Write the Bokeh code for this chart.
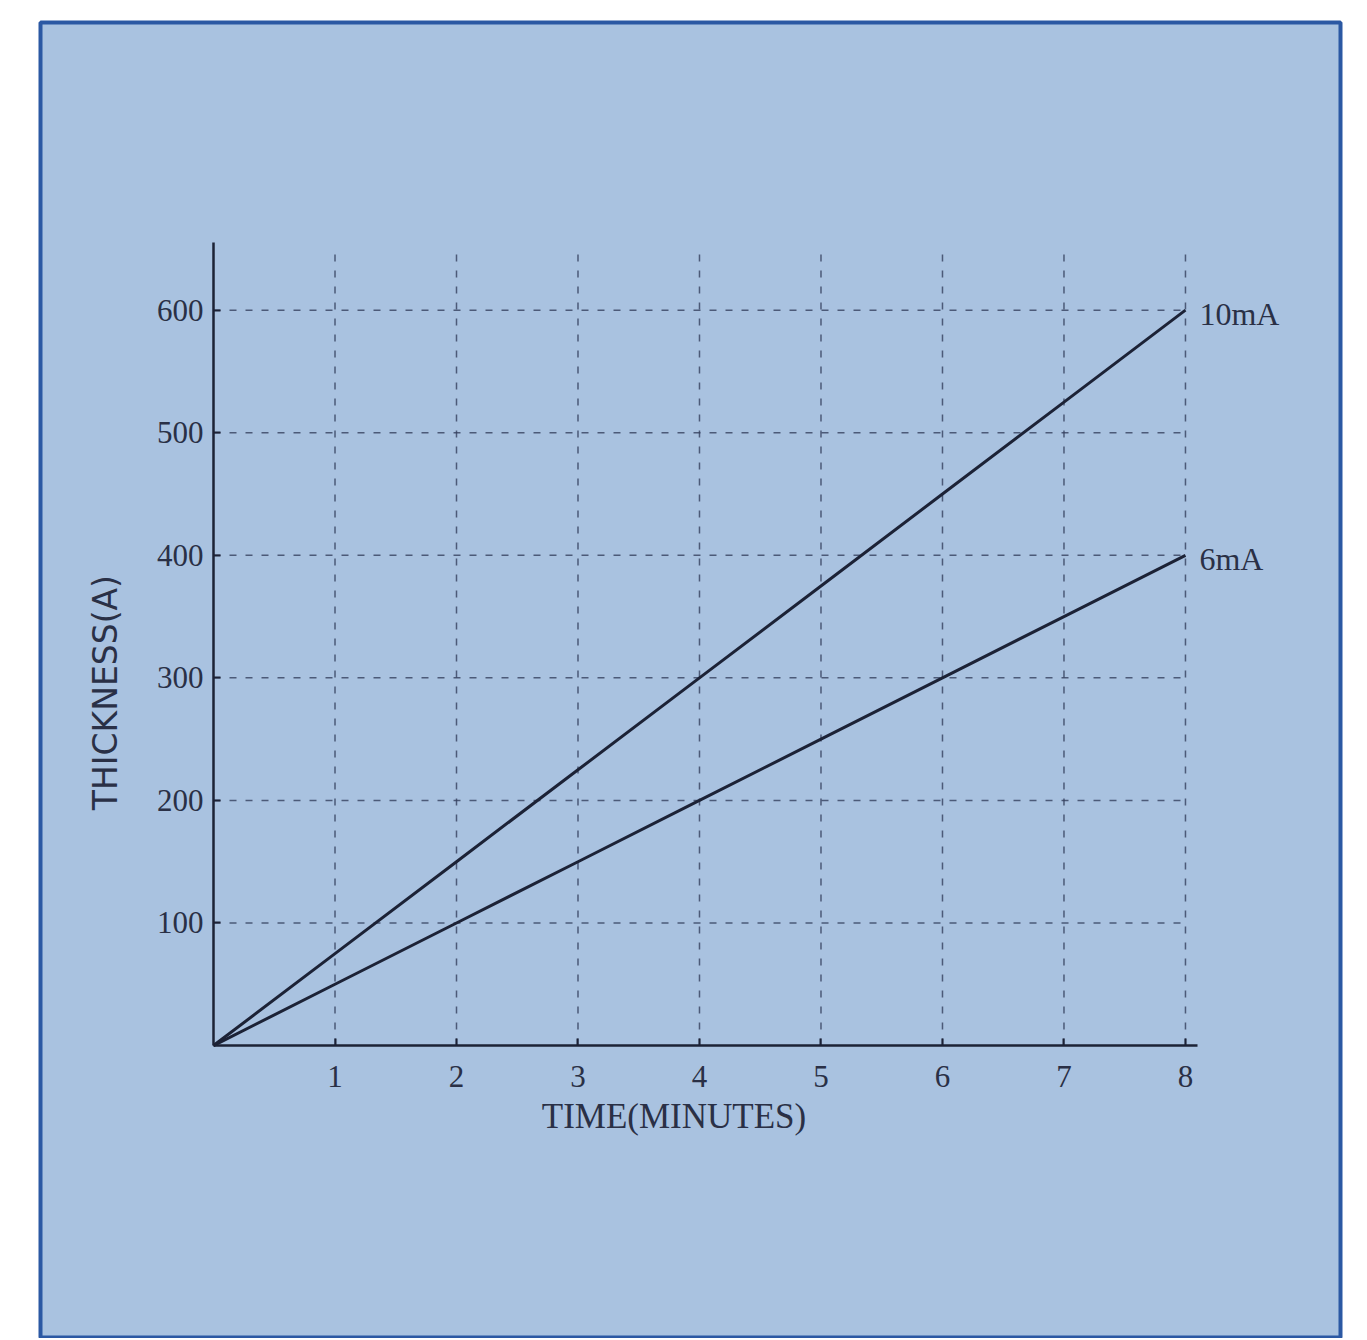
from bokeh.plotting import figure
from bokeh.models import FixedTicker, Label, Range1d
from bokeh.core.properties import value
from bokeh.embed import file_html
from bokeh.resources import INLINE

# ---- data ----
time_min = [0, 1, 2, 3, 4, 5, 6, 7, 8]
thick_10mA = [0, 75, 150, 225, 300, 375, 450, 525, 600]
thick_6mA = [0, 50, 100, 150, 200, 250, 300, 350, 400]
x_ticks = [1, 2, 3, 4, 5, 6, 7, 8]
y_ticks = [100, 200, 300, 400, 500, 600]
series_labels = ["10mA", "6mA"]
x_title = "TIME(MINUTES)"
y_title = "THICKNESS(A)"

INK = "#1c2236"
TXT = "#2a3046"
SERIF = "Liberation Serif"

p = figure(width=1348, height=1338, output_backend="svg", toolbar_location=None,
           x_range=Range1d(-1.424, 9.276), y_range=Range1d(-239.0, 834.7),
           min_border_left=40, min_border_top=22, min_border_right=8, min_border_bottom=0)
p.background_fill_color = "#a9c2e0"
p.border_fill_color = "white"
p.outline_line_color = "#2b58a3"
p.outline_line_width = 4
p.xgrid.visible = False
p.ygrid.visible = False

# dashed grid from tick values
p.segment(x0=x_ticks, y0=[0] * len(x_ticks), x1=x_ticks, y1=[650] * len(x_ticks),
          line_color="#34405e", line_width=1.5, line_dash="7 9", line_alpha=0.8)
p.segment(x0=[0] * len(y_ticks), y0=y_ticks, x1=[8] * len(y_ticks), y1=y_ticks,
          line_color="#34405e", line_width=1.5, line_dash="7 9", line_alpha=0.8)

# series
p.line(time_min, thick_10mA, line_color=INK, line_width=3)
p.line(time_min, thick_6mA, line_color=INK, line_width=3)

p.text(x=[time_min[-1], time_min[-1]], y=[thick_10mA[-1], thick_6mA[-1]], text=series_labels,
       text_font=value(SERIF), text_font_size="32px", text_color=TXT,
       text_align="left", text_baseline="middle", x_offset=14, y_offset=4)

# axes
xa = p.xaxis[0]
xa.fixed_location = 0
xa.bounds = (0, 8.1)
xa.ticker = FixedTicker(ticks=x_ticks)
ya = p.yaxis[0]
ya.fixed_location = 0
ya.bounds = (0, 655)
ya.ticker = FixedTicker(ticks=y_ticks)
for ax in (xa, ya):
    ax.axis_line_color = INK
    ax.axis_line_width = 2.5
    ax.major_tick_in = 7
    ax.major_tick_out = 0
    ax.major_tick_line_color = INK
    ax.major_tick_line_width = 2
    ax.minor_tick_line_color = None
    ax.major_label_text_font = SERIF
    ax.major_label_text_font_size = "31px"
    ax.major_label_text_color = TXT
xa.major_label_standoff = 20
ya.major_label_standoff = 10

p.add_layout(Label(x=3.79, y=-58, text=x_title, text_font=SERIF, text_font_size="35px",
                   text_color=TXT, text_align="center", text_baseline="middle"))
p.add_layout(Label(x=-0.89, y=288, text=y_title, text_font="DejaVu Sans", text_font_size="33px",
                   text_color=TXT, text_align="center", text_baseline="middle",
                   angle=90, angle_units="deg"))

open("out.html", "w").write(file_html(p, INLINE))
